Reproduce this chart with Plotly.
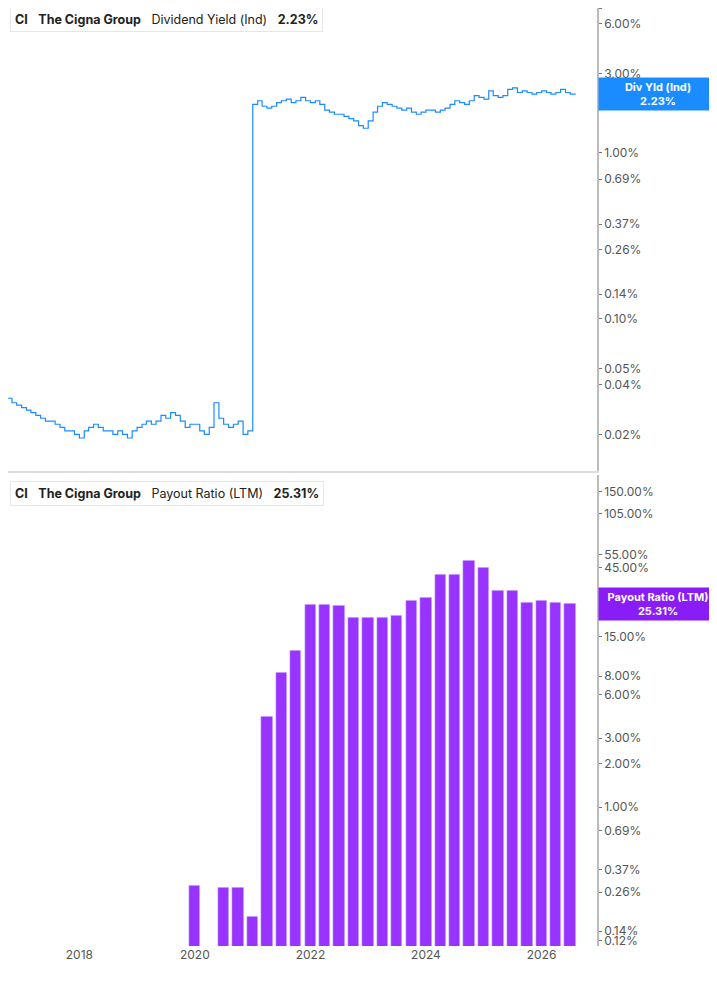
import numpy as np
import pandas as pd
import plotly.graph_objects as go
from plotly.subplots import make_subplots

# --- Data ---
yield_months = pd.date_range("2016-09-01", "2026-08-01", freq="MS")
div_yield = [
    0.034, 0.033, 0.031, 0.030,
    0.029, 0.028, 0.027, 0.026, 0.025, 0.024, 0.024, 0.023, 0.022, 0.021, 0.021, 0.020,
    0.019, 0.021, 0.022, 0.023, 0.022, 0.021, 0.021, 0.020, 0.021, 0.020, 0.019, 0.021,
    0.022, 0.023, 0.024, 0.023, 0.024, 0.026, 0.025, 0.027, 0.026, 0.024, 0.022, 0.023,
    0.023, 0.021, 0.020, 0.022, 0.031, 0.025, 0.023, 0.022, 0.023, 0.024, 0.020, 0.021,
    1.95, 2.05, 1.90, 1.85, 1.90, 2.00, 2.05, 2.10, 2.00, 2.05, 2.15, 2.05,
    2.00, 2.05, 1.95, 1.80, 1.75, 1.70, 1.70, 1.65, 1.60, 1.55, 1.45, 1.40,
    1.55, 1.75, 1.90, 2.00, 1.95, 1.90, 1.85, 1.80, 1.85, 1.75, 1.70, 1.75,
    1.80, 1.80, 1.75, 1.80, 1.85, 1.95, 2.05, 2.00, 1.95, 2.05, 2.20, 2.15,
    2.10, 2.35, 2.20, 2.15, 2.20, 2.40, 2.45, 2.30, 2.35, 2.30, 2.25, 2.30,
    2.35, 2.30, 2.25, 2.30, 2.40, 2.30, 2.25, 2.23,
]

payout_dates = ["2019-12-31", "2020-06-30", "2020-09-30"] + [
    d.strftime("%Y-%m-%d") for d in pd.date_range("2020-12-31", "2026-06-30", freq="QE")
]
payout_ratio = [
    0.29, 0.28, 0.28,
    0.176, 4.25, 8.5, 12.1, 24.9, 24.9, 24.6, 20.4, 20.4, 20.4, 21.0, 26.5,
    27.8, 40.2, 40.2, 49.9, 44.8, 31.4, 31.4, 25.7, 26.5, 25.7, 25.31,
]

top_ticks = [7.39, 6.0, 3.0, 2.0, 1.0, 0.69, 0.37, 0.26, 0.14, 0.10, 0.05, 0.04, 0.02]
bot_ticks = [150, 105, 55, 45, 15, 8, 6, 3, 2, 1, 0.69, 0.37, 0.26, 0.14, 0.12]
year_ticks = ["2018-01-01", "2020-01-01", "2022-01-01", "2024-01-01", "2026-01-01"]

BLUE = "#1a8cff"
PURPLE = "#9933ff"

# page has an 8px body margin, so the figure is sized to the rest of the window
W, H = 709, 997
def px_x(p):
    return (p - 8) / W
def px_y(p):
    return 1 - (p - 8) / H

fig = make_subplots(rows=2, cols=1, shared_xaxes=True, vertical_spacing=0.005)

fig.add_trace(go.Scatter(x=yield_months, y=div_yield, mode="lines", line_shape="hv",
                         line=dict(color=BLUE, width=1.2), showlegend=False), row=1, col=1)
fig.add_trace(go.Bar(x=pd.to_datetime(payout_dates), y=payout_ratio, marker_color=PURPLE,
                     width=72 * 86400000, showlegend=False), row=2, col=1)

tickfont = dict(size=12, color="#555", family="Inter")
fig.update_xaxes(range=["2016-10-07", "2026-12-17"], domain=[0, px_x(597)], showgrid=False,
                 zeroline=False, tickvals=year_ticks, tickformat="%Y", tickfont=tickfont)
fig.update_xaxes(showticklabels=False, row=1, col=1)
fig.update_xaxes(showline=True, linecolor="#dddddd", linewidth=2, mirror=False, row=1, col=1)
fig.update_yaxes(type="log", side="right", showgrid=False, zeroline=False, showline=True,
                 linecolor="#bbbbbb", linewidth=1.5, ticks="outside", ticklen=3,
                 tickcolor="#777", tickfont=tickfont)
fig.update_yaxes(range=[-1.918, 0.871], domain=[px_y(485), 1.0],
                 tickvals=top_ticks, ticktext=[f"{v:.2f}%" for v in top_ticks], row=1, col=1)
fig.update_yaxes(range=[-0.955, 2.286], domain=[px_y(975), px_y(490)],
                 tickvals=bot_ticks, ticktext=[f"{v:.2f}%" for v in bot_ticks], row=2, col=1)

# header boxes
for ytop, color, label, val in [(8, BLUE, "Dividend Yield (Ind)", "2.23%"),
                                (497, PURPLE, "Payout Ratio (LTM)", "25.31%")]:
    fig.add_annotation(xref="paper", yref="paper", x=px_x(10), y=px_y(ytop + 12),
                       xanchor="left", yanchor="middle", showarrow=False, bgcolor="white",
                       bordercolor="#e6e6e6", borderwidth=1, borderpad=4,
                       text=f"<b>CI</b>   <b>The Cigna Group</b>   {label}   <b>{val}</b>",
                       font=dict(size=12.5, color="#222", family="Inter"))
    fig.add_shape(type="rect", xref="paper", yref="paper", x0=px_x(10), x1=px_x(13),
                  y0=px_y(ytop + 24), y1=px_y(ytop), fillcolor=color, line_width=0)

# right-side value labels
for ypx, color, label, val in [(97, BLUE, "Div Yld (Ind)", "2.23%"),
                               (622, "#8a1cf5", "Payout Ratio (LTM)", "25.31%")]:
    fig.add_annotation(xref="paper", yref="paper", x=px_x(598), y=px_y(ypx),
                       xanchor="left", yanchor="middle", showarrow=False, bgcolor=color,
                       width=114, borderpad=2, align="center",
                       text=f"<b>{label}</b><br><b>{val}</b>",
                       font=dict(size=11, color="white", family="Inter"))

fig.update_layout(width=W, height=H, margin=dict(l=0, r=0, t=0, b=H - 967),
                  paper_bgcolor="white", plot_bgcolor="white", bargap=0)

fig.write_html("out.html")
